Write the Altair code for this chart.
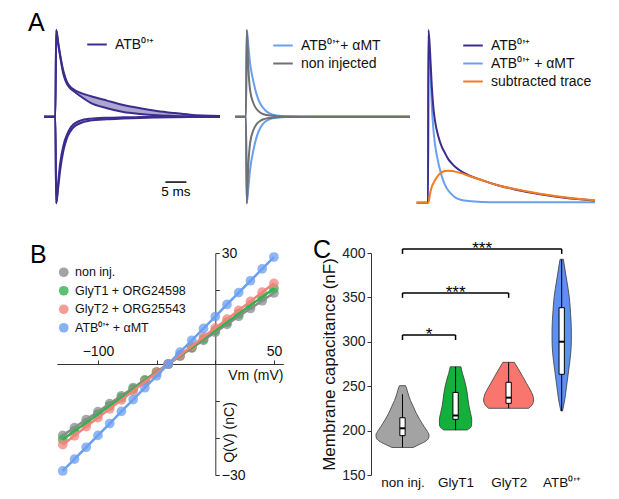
import json
import altair as alt
import pandas as pd

FONT = "Liberation Sans"
ATB = "ATB⁰’⁺"

# ---------------- Panel A data (normalised current vs time in ms) ----------------
a1_series = [ATB]
a1_colors = ["#3b2c8e"]
a1_t = [-2.9, -0.2, 0.0, 0.5, 0.95, 1.75, 2.54, 3.33, 4.13, 5.7, 8.1, 12.1, 16.0, 20.0, 24.0, 27.9, 31.9, 39.0]
a1_up_outer = [0, 0, 1.0, 0.85, 0.713, 0.52, 0.405, 0.347, 0.316, 0.277, 0.239, 0.185, 0.135, 0.097, 0.066, 0.043, 0.023, 0.008]
a1_up_inner = [0, 0, 1.0, 0.83, 0.694, 0.482, 0.378, 0.328, 0.297, 0.239, 0.162, 0.097, 0.054, 0.031, 0.016, 0.008, 0.004, 0.0]
a1_down_outer = [0, 0, -1.0, -0.81, -0.616, -0.385, -0.25, -0.173, -0.123, -0.076, -0.046, -0.03, -0.022, -0.015, -0.01, -0.007, -0.005, -0.003]
a1_down_inner = [0, 0, -1.0, -0.75, -0.539, -0.327, -0.212, -0.134, -0.088, -0.046, -0.023, -0.012, -0.008, -0.005, -0.004, -0.003, -0.003, -0.002]
scalebar_start = [26.0]
scalebar_end = [31.0]
scalebar_level = [-0.755]
scalebar_text = ["5 ms"]
scalebar_text_level = [-0.865]

a2_series = [ATB + "+ αMT", "non injected"]
a2_colors = ["#6a9ff0", "#707070"]
a2_t = [-2.8, -0.2, 0.0, 0.4, 0.79, 1.59, 2.38, 3.17, 3.97, 4.76, 5.56, 7.14, 9.5, 15.0, 25.0, 38.9]
a2_blue_up = [0, 0, 1.0, 0.81, 0.617, 0.405, 0.251, 0.155, 0.097, 0.058, 0.035, 0.012, 0.002, 0, 0, 0]
a2_blue_down = [0, 0, -1.0, -0.81, -0.616, -0.385, -0.231, -0.134, -0.077, -0.046, -0.027, -0.012, -0.004, 0, 0, 0]
a2_gray_up = [0, 0, 1.0, 0.54, 0.309, 0.155, 0.085, 0.047, 0.027, 0.018, 0.012, 0.006, 0.002, 0, 0, 0]
a2_gray_down = [0, 0, -1.0, -0.539, -0.308, -0.154, -0.084, -0.05, -0.03, -0.02, -0.015, -0.006, -0.002, 0, 0, 0]

a3_series = [ATB, ATB + " + αMT", "subtracted trace"]
a3_colors = ["#3b2c8e", "#6a9ff0", "#f47c20"]
a3_t = [-2.8, -0.1, 0.0, 0.4, 0.8, 1.19, 1.59, 2.38, 3.17, 3.97, 4.76, 5.56, 6.35, 7.94, 9.52, 12.7, 16.7, 20.6, 24.6, 28.6, 32.5, 39.7]
a3_atb = [0, 0, 1.0, 0.865, 0.672, 0.546, 0.469, 0.382, 0.324, 0.286, 0.251, 0.228, 0.208, 0.18, 0.16, 0.131, 0.1, 0.077, 0.058, 0.042, 0.029, 0.012]
a3_amt = [0, 0, 0.97, 0.8, 0.56, 0.421, 0.334, 0.228, 0.154, 0.102, 0.069, 0.048, 0.031, 0.016, 0.01, 0.004, 0.002, 0.002, 0.002, 0.002, 0.002, 0.002]
a3_sub = [0, 0, 0.0, 0.054, 0.093, 0.113, 0.131, 0.16, 0.176, 0.183, 0.185, 0.183, 0.18, 0.17, 0.156, 0.131, 0.1, 0.079, 0.06, 0.044, 0.031, 0.0135]

# ---------------- Panel B data ----------------
b_groups = ["non inj.", "GlyT1 + ORG24598", "GlyT2 + ORG25543", ATB + " + αMT"]
b_colors = ["#8c8c8c", "#33b04f", "#f2837c", "#6b9ff0"]
b_vm = [-130, -120, -110, -100, -90, -80, -70, -60, -50, -40, -30, -20, -10, 0, 10, 20, 30, 40, 50]
b_non = [-19.3, -17.2, -15.0, -12.9, -10.7, -8.6, -6.4, -4.3, -2.1, 0.0, 2.1, 4.3, 6.4, 8.6, 10.7, 12.9, 15.0, 17.1, 19.2]
b_glyt1 = [-20.4, -18.1, -15.9, -13.6, -11.3, -9.1, -6.8, -4.5, -2.3, 0.0, 2.3, 4.5, 6.8, 9.1, 11.3, 13.6, 15.9, 18.1, 20.4]
b_glyt2 = [-21.8, -19.4, -16.9, -14.5, -12.1, -9.7, -7.3, -4.8, -2.4, 0.0, 2.4, 4.8, 7.3, 9.7, 12.1, 14.5, 16.9, 19.4, 21.8]
b_atb = [-28.9, -25.7, -22.5, -19.3, -16.1, -12.8, -9.6, -6.4, -3.2, 0.0, 3.2, 6.4, 9.6, 12.8, 16.1, 19.3, 22.5, 25.7, 28.9]

# ---------------- Panel C data ----------------
c_groups = ["non inj.", "GlyT1", "GlyT2", ATB]
c_colors = ["#a3a3a3", "#13b03c", "#f8766d", "#5e90f2"]
c_violin_values = [
    [250.6, 248, 242, 234, 227, 219, 212, 204.4, 199, 195, 191.3, 187.6, 183.9, 181],
    [271.9, 264.5, 257.0, 249.4, 242.0, 234.5, 226.9, 219.5, 211.9, 206.3, 202.6, 200.7],
    [276.9, 268.2, 260.7, 253.3, 245.7, 240.1, 234.5, 228.8, 225.1],
    [392.9, 369.6, 350.8, 332.1, 313.3, 302.0, 287.0, 268.2, 249.4, 234.5, 222.1],
]
c_violin_halfwidth = [
    [0.057, 0.075, 0.104, 0.15, 0.204, 0.265, 0.33, 0.409, 0.47, 0.5, 0.49, 0.424, 0.3, 0.2],
    [0.1006, 0.129, 0.167, 0.198, 0.22, 0.236, 0.255, 0.283, 0.305, 0.302, 0.267, 0.22],
    [0.107, 0.195, 0.267, 0.336, 0.409, 0.453, 0.472, 0.44, 0.377],
    [0.031, 0.094, 0.142, 0.167, 0.182, 0.182, 0.17, 0.132, 0.091, 0.057, 0.016],
]
c_whisker_lo = [181.0, 200.7, 225.1, 222.1]
c_q1 = [194.3, 212.7, 230.7, 263.4]
c_median = [202.6, 217.0, 237.1, 300.1]
c_q3 = [214.5, 243.0, 254.4, 338.4]
c_whisker_hi = [241.0, 271.9, 276.9, 392.9]
br_from = [1, 1, 1]
br_to = [2, 3, 4]
br_level = [307.7, 355.0, 404.5]
br_tip = [302.0, 349.5, 399.0]
br_label = ["*", "***", "***"]

# ---------------- frames ----------------
def long_frame(t, traces):
    rows = []
    for name, series, vals in traces:
        for ti, v in zip(t, vals):
            rows.append({"t": ti, "I": v, "trace": name, "series": series})
    return pd.DataFrame(rows)

df_a1 = long_frame(a1_t, [("uo", ATB, a1_up_outer), ("ui", ATB, a1_up_inner),
                          ("do", ATB, a1_down_outer), ("di", ATB, a1_down_inner)])
df_a1_band = pd.DataFrame({"t": a1_t + a1_t,
                           "hi": a1_up_outer + a1_down_inner,
                           "lo": a1_up_inner + a1_down_outer,
                           "band": ["u"] * len(a1_t) + ["d"] * len(a1_t)})
df_sb = pd.DataFrame({"x0": scalebar_start, "x1": scalebar_end, "y": scalebar_level,
                      "xm": [(a + b) / 2 for a, b in zip(scalebar_start, scalebar_end)],
                      "ty": scalebar_text_level, "txt": scalebar_text})
df_a2_blue = long_frame(a2_t, [("bu", a2_series[0], a2_blue_up), ("bd", a2_series[0], a2_blue_down)])
df_a2_gray = long_frame(a2_t, [("gu", a2_series[1], a2_gray_up), ("gd", a2_series[1], a2_gray_down)])
df_a3 = long_frame(a3_t, [("amt", a3_series[1], a3_amt), ("atb", a3_series[0], a3_atb),
                          ("sub", a3_series[2], a3_sub)])

rows = []
for g, vals in zip(b_groups, [b_non, b_glyt1, b_glyt2, b_atb]):
    for v, q in zip(b_vm, vals):
        rows.append({"V": v, "Q": q, "group": g})
df_b = pd.DataFrame(rows)

rows = []
for i, g in enumerate(c_groups):
    for v, hw in zip(c_violin_values[i], c_violin_halfwidth[i]):
        rows.append({"group": g, "value": v, "xl": i + 1 - hw, "xr": i + 1 + hw})
df_v = pd.DataFrame(rows)
BOXW = 0.05
df_box = pd.DataFrame({"group": c_groups, "pos": [1, 2, 3, 4],
                       "xl": [p - BOXW for p in [1, 2, 3, 4]], "xr": [p + BOXW for p in [1, 2, 3, 4]],
                       "lo": c_whisker_lo, "q1": c_q1, "med": c_median, "q3": c_q3, "hi": c_whisker_hi})
df_br = pd.DataFrame({"x1": br_from, "x2": br_to, "y": br_level, "ylo": br_tip, "label": br_label,
                      "xm": [(a + b) / 2 for a, b in zip(br_from, br_to)]})

# ---------------- scales (layout) ----------------
def S(domain, rng):
    return alt.Scale(domain=domain, range=rng, nice=False, zero=False)

xs_a1 = S([-2.9, 39.0], [36, 212])
xs_a2 = S([-2.8, 38.9], [227, 402])
xs_a3 = S([-2.8, 39.7], [408.7, 587])
ys_a = S([-1, 1], [195.3, 22])
ys_a3 = S([0, 1], [194.7, 22])
xs_b = S([-135, 58], [48.9, 275.3])
ys_b = S([-30, 30], [467, 245])
xs_c = S([1, 4], [394.5, 553.7])
ys_c = S([150, 400], [467, 245])

def line_legend(x, y):
    return alt.Legend(orient="none", legendX=x, legendY=y, title=None, symbolType="stroke",
                      symbolSize=380, symbolStrokeWidth=2, labelFontSize=14, labelFont=FONT,
                      labelOffset=7, rowPadding=0, padding=0, labelColor="#111")

# ---------------- Panel A1 ----------------
a1_band = alt.Chart(df_a1_band).mark_area(color=a1_colors[0], opacity=0.42, interpolate="monotone").encode(
    x=alt.X("t:Q", scale=xs_a1, axis=None), y=alt.Y("hi:Q", scale=ys_a, axis=None), y2="lo:Q", detail="band:N")
a1_lines = alt.Chart(df_a1).mark_line(strokeWidth=2, interpolate="monotone").encode(
    x=alt.X("t:Q", scale=xs_a1, axis=None), y=alt.Y("I:Q", scale=ys_a, axis=None), detail="trace:N",
    color=alt.Color("series:N", scale=alt.Scale(domain=a1_series, range=a1_colors), legend=line_legend(78, 25.5)))
a1_sb = alt.Chart(df_sb).mark_rule(color="black", strokeWidth=1.5).encode(
    x=alt.X("x0:Q", scale=xs_a1, axis=None), x2="x1:Q", y=alt.Y("y:Q", scale=ys_a, axis=None))
a1_sbt = alt.Chart(df_sb).mark_text(fontSize=13.5, font=FONT, baseline="middle", color="black").encode(
    x=alt.X("xm:Q", scale=xs_a1, axis=None), y=alt.Y("ty:Q", scale=ys_a, axis=None), text="txt:N")
A1 = alt.layer(a1_band, a1_lines, a1_sb, a1_sbt)

# ---------------- Panel A2 ----------------
a2_col = alt.Color("series:N", scale=alt.Scale(domain=a2_series, range=a2_colors), legend=line_legend(264, 26.5))
a2_b = alt.Chart(df_a2_blue).mark_line(strokeWidth=2, interpolate="monotone").encode(
    x=alt.X("t:Q", scale=xs_a2, axis=None), y=alt.Y("I:Q", scale=ys_a, axis=None), detail="trace:N", color=a2_col)
a2_g = alt.Chart(df_a2_gray).mark_line(strokeWidth=2, interpolate="monotone").encode(
    x=alt.X("t:Q", scale=xs_a2, axis=None), y=alt.Y("I:Q", scale=ys_a, axis=None), detail="trace:N", color=a2_col)
A2 = alt.layer(a2_b, a2_g)

# ---------------- Panel A3 ----------------
A3 = alt.Chart(df_a3).mark_line(strokeWidth=2, interpolate="monotone").encode(
    x=alt.X("t:Q", scale=xs_a3, axis=None), y=alt.Y("I:Q", scale=ys_a3, axis=None), detail="trace:N",
    color=alt.Color("series:N", scale=alt.Scale(domain=a3_series, range=a3_colors), legend=line_legend(454, 26.5)))

# ---------------- Panel B ----------------
b_xaxis = alt.Axis(orient="top", offset=-356, values=[-100, -50, 0, 50],
                   labelExpr="datum.value == -100 || datum.value == 50 ? datum.label : ''",
                   title="Vm (mV)", titleX=275, titleY=11, titleAlign="right", titleBaseline="middle",
                   titleFontSize=14, titleFontWeight="normal", labelFontSize=14, tickSize=4, labelPadding=2,
                   grid=False, domainColor="#333", tickColor="#333", labelColor="#111", titleColor="#111")
b_yaxis = alt.Axis(orient="right", offset=-395.7, values=[-30, -20, -10, 0, 10, 20, 30],
                   labelExpr="abs(datum.value) == 30 ? datum.label : ''",
                   title="Q(V) (nC)", titleAngle=270, titleX=14, titleY=424, titleAlign="center",
                   titleBaseline="middle", titleFontSize=14, titleFontWeight="normal", labelFontSize=14,
                   tickSize=4, labelPadding=2, grid=False, domainColor="#333", tickColor="#333",
                   labelColor="#111", titleColor="#111")
b_color = alt.Color("group:N", scale=alt.Scale(domain=b_groups, range=b_colors),
                    legend=alt.Legend(orient="none", legendX=49.5, legendY=258, title=None, symbolType="circle",
                                      symbolSize=95, symbolOpacity=0.8, symbolStrokeWidth=0, labelFontSize=12.5,
                                      labelFont=FONT, labelOffset=5, rowPadding=5.5, padding=0, labelColor="#111"))
b_pts = alt.Chart(df_b).mark_circle(size=95, opacity=0.75).encode(
    x=alt.X("V:Q", scale=xs_b, axis=b_xaxis), y=alt.Y("Q:Q", scale=ys_b, axis=b_yaxis), color=b_color)
b_lines = alt.Chart(df_b).mark_line(strokeWidth=2.5).encode(
    x=alt.X("V:Q", scale=xs_b), y=alt.Y("Q:Q", scale=ys_b), color=b_color)
B = alt.layer(b_pts, b_lines)

# ---------------- Panel C ----------------
c_label_expr = json.dumps(c_groups, ensure_ascii=False) + "[datum.value - 1]"
c_xaxis = alt.Axis(orient="bottom", offset=-16, values=[1, 2, 3, 4], labelExpr=c_label_expr, domain=False,
                   ticks=False, labelPadding=0, labelFontSize=13.5, title=None, grid=False, labelColor="#111",
                   labelOverlap=False, labelFlush=False, labelBound=False)
c_yaxis = alt.Axis(orient="left", offset=-363, values=[150, 200, 250, 300, 350, 400],
                   title="Membrane capacitance (nF)", titleFontSize=17, titleFontWeight="normal",
                   labelFontSize=14, tickSize=4, labelPadding=2, titlePadding=3, grid=False,
                   domainColor="#333", tickColor="#333", labelColor="#222", titleColor="#111")
c_violin = alt.Chart(df_v).mark_area(orient="horizontal", interpolate="monotone", stroke="#3a3a3a",
                                     strokeWidth=0.8).encode(
    y=alt.Y("value:Q", scale=ys_c, axis=c_yaxis, sort=None),
    x=alt.X("xl:Q", scale=xs_c, axis=c_xaxis), x2="xr:Q",
    fill=alt.Fill("group:N", scale=alt.Scale(domain=c_groups, range=c_colors), legend=None))
c_whisk = alt.Chart(df_box).mark_rule(color="black", strokeWidth=1).encode(
    x=alt.X("pos:Q", scale=xs_c), y=alt.Y("lo:Q", scale=ys_c), y2="hi:Q")
c_box = alt.Chart(df_box).mark_rect(fill="white", stroke="black", strokeWidth=1).encode(
    x=alt.X("xl:Q", scale=xs_c), x2="xr:Q", y=alt.Y("q1:Q", scale=ys_c), y2="q3:Q")
c_med = alt.Chart(df_box).mark_rule(color="black", strokeWidth=2).encode(
    x=alt.X("xl:Q", scale=xs_c), x2="xr:Q", y=alt.Y("med:Q", scale=ys_c))
c_brh = alt.Chart(df_br).mark_rule(color="black", strokeWidth=1.5).encode(
    x=alt.X("x1:Q", scale=xs_c), x2="x2:Q", y=alt.Y("y:Q", scale=ys_c))
c_brl = alt.Chart(df_br).mark_rule(color="black", strokeWidth=1.5).encode(
    x=alt.X("x1:Q", scale=xs_c), y=alt.Y("y:Q", scale=ys_c), y2="ylo:Q")
c_brr = alt.Chart(df_br).mark_rule(color="black", strokeWidth=1.5).encode(
    x=alt.X("x2:Q", scale=xs_c), y=alt.Y("y:Q", scale=ys_c), y2="ylo:Q")
c_star = alt.Chart(df_br).mark_text(fontSize=17, font=FONT, baseline="alphabetic", dy=5, color="black").encode(
    x=alt.X("xm:Q", scale=xs_c), y=alt.Y("y:Q", scale=ys_c), text="label:N")
C = alt.layer(c_violin, c_whisk, c_box, c_med, c_brh, c_brl, c_brr, c_star)

# ---------------- panel letters ----------------
one = pd.DataFrame({"k": [0]})
def letter(ch, x, y):
    return alt.Chart(one).mark_text(text=ch, fontSize=25, font=FONT, align="left", baseline="alphabetic",
                                    color="black").encode(x=alt.value(x), y=alt.value(y))

chart = alt.layer(A1, A2, A3, B, C, letter("A", 20, 23), letter("B", 22, 255), letter("C", 305, 250)).resolve_scale(
    x="independent", y="independent", color="independent", fill="independent"
).properties(width=603, height=483, padding=0, autosize=alt.AutoSizeParams(type="none")
).configure(font=FONT).configure_view(stroke=None)

chart.save("out.html", embed_options={"renderer": "svg", "actions": False})
